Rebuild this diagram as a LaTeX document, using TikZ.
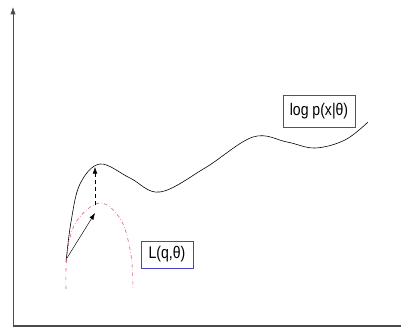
\documentclass[tikz,border=0pt]{standalone}
\usepackage{fontspec}
\setmainfont{Liberation Sans}
\usepackage{tikz}
\usetikzlibrary{arrows.meta, positioning}
\definecolor{boxblue}{RGB}{70,70,190}
\definecolor{bndred}{RGB}{225,90,110}

\begin{document}
\begin{tikzpicture}[x=0.3mm, y=-0.3mm, font=\fontsize{12}{14}\selectfont]
          \useasboundingbox (0,0) rectangle (401,333);
          \coordinate (org) at (13,326);
          \coordinate (ytop) at (13,7);
          \coordinate (xend) at (401,326);
          \draw[gray!60!black, line width=0.6pt, -{Latex[length=2.2mm,width=1.6mm]}] (org) -- (ytop);
          \draw[gray!60!black, line width=0.9pt] (org) -- (xend);
          % log likelihood curve
          \draw[black, line width=0.5pt] plot[smooth, tension=0.6] coordinates {(66,262) (71,222) (80,184) (100,164) (130,178) (160,192) (205,168) (253,137) (287,142) (315,148) (345,140) (368,122)};
          % lower bound
          \draw[bndred, dash dot, line width=0.5pt] plot[smooth, tension=0.6] coordinates {(66,289) (67,255) (76,222) (100,203) (121,220) (131,255) (133,289)};
          \coordinate (st) at (67,258);
          \coordinate (lb) at (95,213);
          \coordinate (lbtop) at (95,205);
          \coordinate (ll) at (95,167);
          \draw[-{Latex[length=2mm,width=1.4mm]}] (st) -- (lb);
          \draw[dashed, -{Latex[length=2mm,width=1.4mm]}] (lbtop) -- (ll);
          \node[draw=boxblue, line width=0.6pt, fill=white, inner sep=0pt, minimum width=21.6mm, minimum height=9.6mm] (llbl) at (319,111) {\scalebox{1}[1.2]{log p(x|θ)}};
          \node[draw=boxblue, line width=0.6pt, fill=white, inner sep=0pt, minimum width=15.6mm, minimum height=8.1mm] (lbl) at (167,254.5) {\scalebox{1}[1.2]{L(q,θ)}};
        \end{tikzpicture}
\end{document}
